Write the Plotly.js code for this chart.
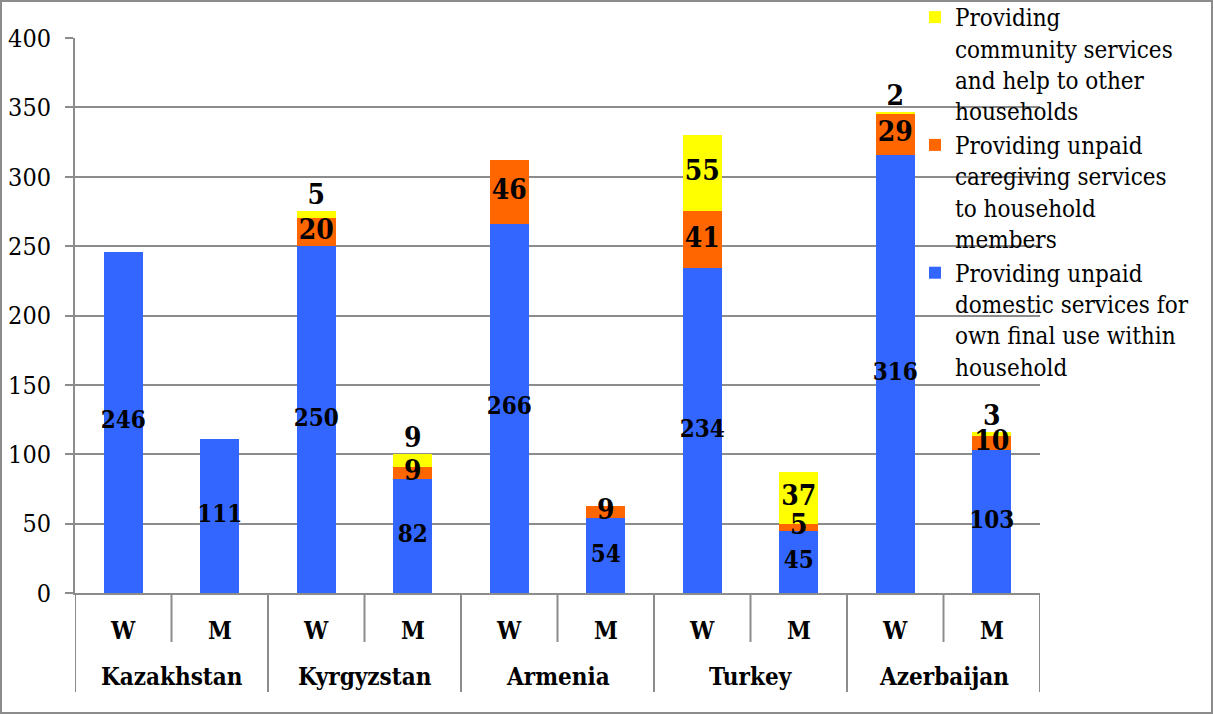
<!DOCTYPE html>
<html>
<head>
<meta charset="utf-8">
<script src="https://cdn.plot.ly/plotly-3.0.1.min.js"></script>
<style>
html,body{margin:0;padding:0;background:#fff;}
#chart{width:1213px;height:714px;}
</style>
</head>
<body>
<div id="chart"></div>
<script>
// ---- data ----
var countries = ['Kazakhstan', 'Kyrgyzstan', 'Armenia', 'Turkey', 'Azerbaijan'];
var sexes = ['W', 'M'];
var domestic = [246, 111, 250, 82, 266, 54, 234, 45, 316, 103];
var caregiving = [0, 0, 20, 9, 46, 9, 41, 5, 29, 10];
var community = [0, 0, 5, 9, 0, 0, 55, 37, 2, 3];
var seriesNames = [
  'Providing unpaid<br>domestic services for<br>own final use within<br>household',
  'Providing unpaid<br>caregiving services<br>to household<br>members',
  'Providing<br>community services<br>and help to other<br>households'
];
var yTicks = [0, 50, 100, 150, 200, 250, 300, 350, 400];

// ---- helpers ----
var FONT = '"DejaVu Serif Condensed", "DejaVu Serif", serif';
var GRAY = '#8c8c8c';
var L = 75, R = 1040, T = 38, B = 593;
function py(p) { return (B - p) / (B - T); }   // pixel y -> paper y
function px(p) { return (p - L) / (R - L); }   // pixel x -> paper x

var xs = domestic.map(function (_, i) { return i; });
function labels(arr) { return arr.map(function (v) { return v ? String(v) : ''; }); }

var BW = 0.4;
var colors = ['#3366FF', '#FF6600', '#FFFF00'];
var series = [domestic, caregiving, community];
var traces = [];
series.forEach(function (vals, k) {
  traces.push({
    type: 'bar', name: seriesNames[k], x: xs, y: vals, width: BW,
    marker: { color: colors[k] }, hoverinfo: 'y'
  });
});

// value labels drawn on top of all bars
var base1 = domestic;
var base2 = domestic.map(function (v, i) { return v + caregiving[i]; });
var total = base2.map(function (v, i) { return v + community[i]; });
var labelFont = function (size) { return { family: FONT, size: size, color: '#000', weight: 'bold' }; };

traces.push({
  type: 'scatter', mode: 'text', showlegend: false, hoverinfo: 'skip', cliponaxis: false,
  x: xs, y: domestic.map(function (v) { return v / 2; }),
  text: labels(domestic), textposition: 'middle center', textfont: labelFont(24)
});
traces.push({
  type: 'scatter', mode: 'text', showlegend: false, hoverinfo: 'skip', cliponaxis: false,
  x: xs, y: caregiving.map(function (v, i) { return base1[i] + v / 2; }),
  text: labels(caregiving), textposition: 'middle center', textfont: labelFont(28)
});
var commInY = [], commOutY = [], commInT = [], commOutT = [];
community.forEach(function (v, i) {
  var inside = v >= 20;
  commInY.push(base2[i] + v / 2);
  commOutY.push(total[i]);
  commInT.push(inside && v ? String(v) : '');
  commOutT.push(!inside && v ? String(v) : '');
});
traces.push({
  type: 'scatter', mode: 'text', showlegend: false, hoverinfo: 'skip', cliponaxis: false,
  x: xs, y: commInY, text: commInT, textposition: 'middle center', textfont: labelFont(28)
});
traces.push({
  type: 'scatter', mode: 'text', showlegend: false, hoverinfo: 'skip', cliponaxis: false,
  x: xs, y: commOutY, text: commOutT, textposition: 'top center', textfont: labelFont(28)
});

// ---- category axis labels & separators ----
var annotations = [];
var shapes = [];
xs.forEach(function (i) {
  annotations.push({
    xref: 'x', yref: 'paper', x: i, y: py(630), text: '<b>' + sexes[i % 2] + '</b>',
    showarrow: false, yanchor: 'middle', xanchor: 'center',
    font: { family: FONT, size: 24, color: '#000' }
  });
});
countries.forEach(function (c, k) {
  annotations.push({
    xref: 'x', yref: 'paper', x: 2 * k + 0.5, y: py(676), text: '<b>' + c + '</b>',
    showarrow: false, yanchor: 'middle', xanchor: 'center',
    font: { family: FONT, size: 24, color: '#000' }
  });
});
for (var s = 0; s <= xs.length; s++) {
  var isGroup = (s % 2 === 0);
  shapes.push({
    type: 'line', xref: 'x', yref: 'paper', x0: s - 0.5, x1: s - 0.5,
    y0: 0, y1: py(isGroup ? 692 : 642), line: { color: GRAY, width: 2 }
  });
}
// outer border
shapes.push({
  type: 'rect', xref: 'paper', yref: 'paper',
  x0: px(1), x1: px(1212), y0: py(1), y1: py(713),
  line: { color: GRAY, width: 2 }, fillcolor: 'rgba(0,0,0,0)', layer: 'above'
});

var layout = {
  width: 1213, height: 714,
  margin: { l: L, r: 1213 - R, t: T, b: 714 - B, pad: 0, autoexpand: false },
  paper_bgcolor: '#fff', plot_bgcolor: '#fff',
  barmode: 'stack',
  showlegend: true,
  font: { family: FONT, color: '#000' },
  xaxis: {
    range: [-0.5, xs.length - 0.5], showticklabels: false, ticks: '',
    showgrid: false, zeroline: false, showline: true, linecolor: GRAY, linewidth: 2,
    fixedrange: true
  },
  yaxis: {
    range: [0, 400], tickvals: yTicks, ticktext: yTicks.map(String),
    showgrid: true, gridcolor: GRAY, gridwidth: 2,
    zeroline: false, showline: true, linecolor: GRAY, linewidth: 2,
    ticks: 'outside', ticklen: 8, tickcolor: GRAY, tickwidth: 2,
    ticklabelstandoff: 9,
    tickfont: { family: FONT, size: 25, color: '#000' },
    fixedrange: true
  },
  legend: {
    x: px(915), y: py(-5), xanchor: 'left', yanchor: 'top',
    traceorder: 'reversed', valign: 'top', maxheight: 700,
    bgcolor: 'rgba(0,0,0,0)', borderwidth: 0,
    font: { family: FONT, size: 24, color: '#000' },
    itemclick: false, itemdoubleclick: false
  },
  annotations: annotations,
  shapes: shapes
};

Plotly.newPlot('chart', traces, layout, { displayModeBar: false, staticPlot: true });
</script>
</body>
</html>
